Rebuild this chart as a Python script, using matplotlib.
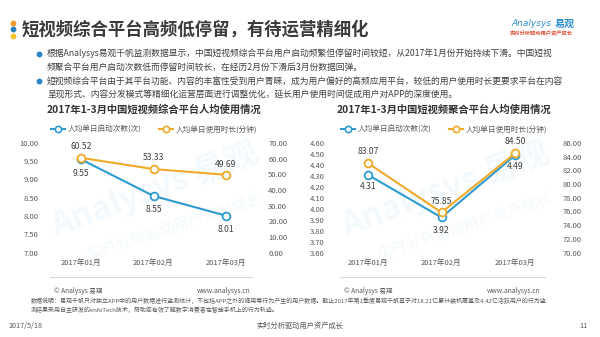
import matplotlib
matplotlib.use("Agg")
import matplotlib.pyplot as plt
from matplotlib.lines import Line2D

plt.rcParams['font.family'] = ['Noto Sans CJK SC', 'DejaVu Sans']

# ---------------- data ----------------
months = ["2017年01月", "2017年02月", "2017年03月"]
series_names = ["人均单日启动次数(次)", "人均单日使用时长(分钟)"]

zh_title = "2017年1-3月中国短视频综合平台人均使用情况"
zh_launch = [9.55, 8.55, 8.01]
zh_minutes = [60.52, 53.33, 49.69]
zh_left_ticks = [7.00, 7.50, 8.00, 8.50, 9.00, 9.50, 10.00]
zh_right_ticks = [0, 10, 20, 30, 40, 50, 60, 70]

jh_title = "2017年1-3月中国短视频聚合平台人均使用情况"
jh_launch = [4.31, 3.92, 4.49]
jh_minutes = [83.07, 75.85, 84.50]
jh_left_ticks = [3.60, 3.70, 3.80, 3.90, 4.00, 4.10, 4.20, 4.30, 4.40, 4.50, 4.60]
jh_right_ticks = [70, 72, 74, 76, 78, 80, 82, 84, 86]

page_title = "短视频综合平台高频低停留，有待运营精细化"
bullet_lines = [
    "根据Analysys易观千帆监测数据显示，中国短视频综合平台用户启动频繁但停留时间较短，从2017年1月份开始持续下滑。中国短视",
    "频聚合平台用户启动次数低而停留时间较长，在经历2月份下滑后3月份数据回弹。",
    "短视频综合平台由于其平台功能、内容的丰富性受到用户青睐，成为用户偏好的高频应用平台，较低的用户使用时长更要求平台在内容",
    "呈现形式、内容分发模式等精细化运营层面进行调整优化，延长用户使用时间促成用户对APP的深度使用。",
]
footnote_lines = [
    "数据说明：易观千帆只对独立APP中的用户数据进行监测统计，不包括APP之外的调用等行为产生的用户数据。截止2017年第1季度易观千帆基于对18.21亿累计装机覆盖及4.42亿活跃用户的行为监",
    "测结果采用自主研发的enfoTech技术，帮助您有效了解数字消费者在智能手机上的行为轨迹。",
]

BLUE = "#2f9bd0"
ORANGE = "#f0aa2a"
TXT = "#404040"
GRAY = "#595959"

W, H = 600, 337
fig = plt.figure(figsize=(W / 100, H / 100), dpi=100)
fig.patch.set_facecolor("white")


def fx(px):
    return px / W


def fy(py):
    return 1 - py / H


# ---------------- header ----------------
for yy, c in [(22.5, "#f39a2b"), (29, "#2e7fc0"), (35.5, "#f5c12a")]:
    fig.lines.append(Line2D([fx(12.7)], [fy(yy)], transform=fig.transFigure, marker="o",
                            markersize=3.2, color=c, linestyle="none"))

fig.text(fx(22), fy(29.5), page_title, fontsize=12.5, fontweight="bold", color="#3a3a3a",
         va="center", ha="left")

fig.text(fx(552), fy(24), "Analysys", fontsize=6.5, color="#2e8fd0", style="italic",
         va="center", ha="right", family=["DejaVu Sans"])
fig.text(fx(555), fy(24), "易观", fontsize=7.2, color="#2e8fd0", fontweight="bold",
         va="center", ha="left")
fig.text(fx(541), fy(34), "实时分析驱动用户资产成长", fontsize=3.8, color="#e0503a",
         fontweight="bold", va="center", ha="center")

line_y = [53.5, 67, 81, 94]
for ln, yy in zip(bullet_lines, line_y):
    fig.text(fx(47), fy(yy), ln, fontsize=6.3, color=TXT, va="center", ha="left")
for yy in (53.5, 81):
    fig.lines.append(Line2D([fx(39.5)], [fy(yy)], transform=fig.transFigure, marker="o",
                            markersize=3.2, color="#2e86c8", linestyle="none"))

# ---------------- watermarks ----------------
for cx in (155, 445):
    fig.text(fx(cx), fy(190), "Analysys 易观", fontsize=24, color="#2f9bd0", alpha=0.06,
             rotation=20, ha="center", va="center", zorder=-5, fontweight="bold")
    fig.text(fx(cx + 20), fy(226), "实时分析驱动用户资产成长", fontsize=11, color="#2f9bd0",
             alpha=0.06, rotation=18, ha="center", va="center", zorder=-5)


# ---------------- charts ----------------
def draw_chart(left_px, right_px, title, launch, minutes, lticks, rticks, title_cx,
               label_offsets, rpad):
    ax = fig.add_axes([fx(left_px), fy(252.5), fx(right_px - left_px), (252.5 - 143) / H])
    ax.set_facecolor("none")
    ax2 = ax.twinx()
    ax2.set_facecolor("none")
    x = list(range(len(months)))
    ax.plot(x, launch, color=BLUE, lw=1.5, marker="o", markersize=5.6, markerfacecolor="white",
            markeredgewidth=1.3, zorder=3, clip_on=False)
    ax2.plot(x, minutes, color=ORANGE, lw=1.5, marker="o", markersize=5.6,
             markerfacecolor="white", markeredgewidth=1.3, zorder=3, clip_on=False)
    ax.set_xlim(-0.5, len(months) - 0.5)
    ax.set_ylim(lticks[0], lticks[-1])
    ax2.set_ylim(rticks[0], rticks[-1])
    ax.set_yticks(lticks)
    ax.set_yticklabels(["%.2f" % v for v in lticks])
    ax2.set_yticks(rticks)
    ax2.set_yticklabels(["%.2f" % v for v in rticks])
    ax.set_xticks(x)
    ax.set_xticklabels(months)
    for a in (ax, ax2):
        for s in a.spines.values():
            s.set_visible(False)
        a.tick_params(length=0, labelsize=5.5, colors=GRAY)
    ax.tick_params(axis="y", pad=4.5)
    ax.tick_params(axis="x", pad=5)
    ax2.tick_params(axis="y", pad=rpad)
    for i in x:
        lo, mo = label_offsets[i]
        ax.annotate("%.2f" % launch[i], (i, launch[i]), xytext=(0, lo), textcoords="offset points",
                    ha="center", va="center", fontsize=6.2, color=TXT, zorder=4)
        ax2.annotate("%.2f" % minutes[i], (i, minutes[i]), xytext=(0, mo),
                     textcoords="offset points", ha="center", va="center", fontsize=6.2,
                     color=TXT, zorder=4)
    fig.text(fx(title_cx), fy(110), title, fontsize=7.4, fontweight="bold", color="#333333",
             ha="center", va="center")
    handles = [Line2D([], [], color=BLUE, lw=1.5, marker="o", markersize=4.5,
                      markerfacecolor="white", markeredgewidth=1.2),
               Line2D([], [], color=ORANGE, lw=1.5, marker="o", markersize=4.5,
                      markerfacecolor="white", markeredgewidth=1.2)]
    fig.legend(handles, series_names, loc="center", bbox_to_anchor=(fx(title_cx), fy(129.5)),
               ncol=2, frameon=False, fontsize=5.5, handlelength=1.9, handletextpad=0.3,
               columnspacing=2.3, labelcolor=GRAY, borderpad=0)
    return ax


draw_chart(45, 262, zh_title, zh_launch, zh_minutes, zh_left_ticks, zh_right_ticks, 154,
           [(-10, 8), (-10, 8.5), (-10, 7.5)], 4.5)
draw_chart(331, 552, jh_title, jh_launch, jh_minutes, jh_left_ticks, jh_right_ticks, 444,
           [(-8.5, 8), (-9.5, 8), (-8.5, 8.5)], 8)

# ---------------- footer ----------------
for x0, x1 in [(50, 252), (340, 545)]:
    fig.lines.append(Line2D([fx(x0), fx(x1)], [fy(277), fy(277)], transform=fig.transFigure,
                            color="#d9d9d9", lw=0.8))
for xl, xr in [(54, 250), (344, 540)]:
    fig.text(fx(xl), fy(291), "© Analysys 易观", fontsize=4.8, color=GRAY, ha="left", va="center")
    fig.text(fx(xr), fy(291), "www.analysys.cn", fontsize=4.8, color=GRAY, ha="right",
             va="center")
for ln, yy in zip(footnote_lines, (300.5, 309.5)):
    fig.text(fx(31), fy(yy), ln, fontsize=4.3, color=GRAY, ha="left", va="center")

fig.text(fx(9), fy(326), "2017/5/18", fontsize=5.2, color=GRAY, ha="left", va="center")
fig.text(fx(300), fy(326), "实时分析驱动用户资产成长", fontsize=5.2, color=GRAY, ha="center",
         va="center")
fig.text(fx(588), fy(326), "11", fontsize=5.2, color=GRAY, ha="right", va="center")

fig.savefig("out.png", dpi=100)
